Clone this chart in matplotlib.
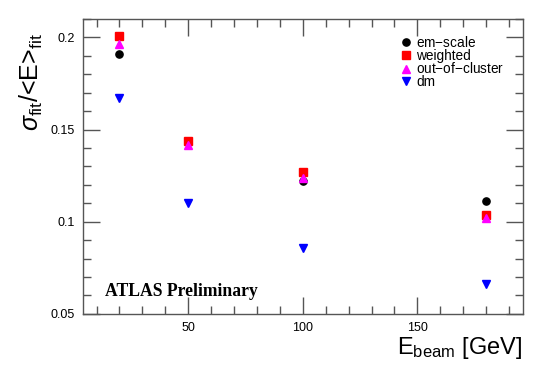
import matplotlib
matplotlib.use("Agg")
import matplotlib.pyplot as plt
from matplotlib.ticker import MultipleLocator

plt.rcParams['font.family'] = ['Liberation Sans', 'DejaVu Sans']
plt.rcParams['mathtext.fontset'] = 'custom'
plt.rcParams['mathtext.rm'] = 'Liberation Sans'
plt.rcParams['mathtext.it'] = 'Liberation Sans:italic'
plt.rcParams['mathtext.sf'] = 'Liberation Sans'

# Data
e_beam = [20, 50, 100, 180]
em_scale = [0.1910, 0.1430, 0.1220, 0.1113]
weighted = [0.2009, 0.1440, 0.1270, 0.1038]
out_of_cluster = [0.1964, 0.1415, 0.1235, 0.1020]
dm = [0.1673, 0.1100, 0.0855, 0.0660]

fig = plt.figure(figsize=(5.52, 3.71), dpi=100)
ax = fig.add_axes([0.150, 0.154, 0.797, 0.795])

ax.plot(e_beam, em_scale, 'o', color='black', ms=5.2, label='em$-$scale')
ax.plot(e_beam, weighted, 's', color='red', ms=5.2, label='weighted')
ax.plot(e_beam, out_of_cluster, '^', color='magenta', ms=5.2, label='out$-$of$-$cluster')
ax.plot(e_beam, dm, 'v', color='blue', ms=5.2, label='dm')

ax.set_xlim(4, 196)
ax.set_ylim(0.05, 0.21)
ax.xaxis.set_major_locator(MultipleLocator(50))
ax.xaxis.set_minor_locator(MultipleLocator(10))
ax.yaxis.set_major_locator(MultipleLocator(0.05))
ax.yaxis.set_minor_locator(MultipleLocator(0.01))
ax.set_yticks([0.05, 0.1, 0.15, 0.2])
ax.set_yticklabels(['0.05', '0.1', '0.15', '0.2'])

ax.tick_params(which='both', direction='in', top=True, right=True, color='#555555', width=1)
ax.tick_params(which='major', length=12, labelsize=9, pad=6)
ax.tick_params(which='minor', length=6)
for s in ax.spines.values():
    s.set_color('#555555')
    s.set_linewidth(1)

ax.legend(loc='upper left', bbox_to_anchor=(0.72, 0.945), frameon=False, fontsize=9.8,
          handletextpad=0.2, labelspacing=-0.1, handlelength=1.0, borderaxespad=0.0,
          borderpad=0.0)

ax.text(0.05, 0.06, 'ATLAS Preliminary', transform=ax.transAxes, fontsize=12.7,
        fontweight='bold', family='Liberation Serif')

fig.text(0.032, 0.91, r'$\sigma_{\rm fit}/$<E>$_{\rm fit}$', rotation=90, fontsize=18,
         ha='left', va='top')
fig.text(0.947, 0.028, r'E$_{\rm beam}$ [GeV]', fontsize=17, ha='right', va='bottom')

fig.savefig('out.png', dpi=100)
